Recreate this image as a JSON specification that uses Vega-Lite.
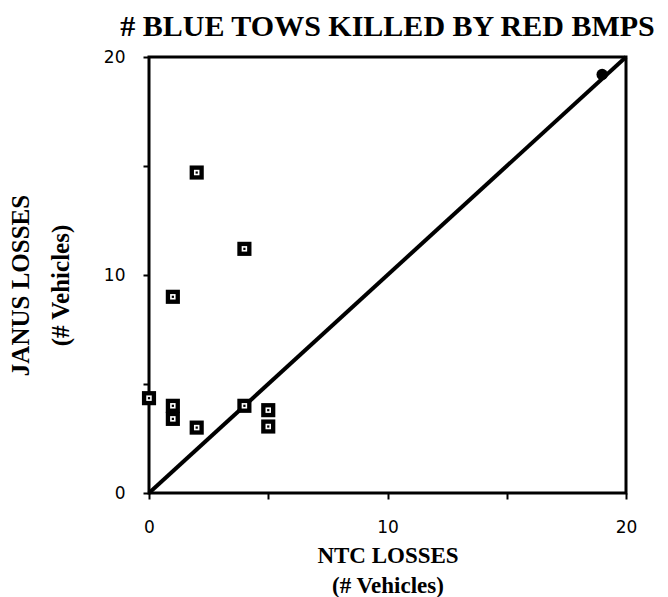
{
  "$schema": "https://vega.github.io/schema/vega-lite/v6.json",
  "width": 477,
  "height": 436,
  "autosize": {"type": "none"},
  "padding": {"left": 149, "top": 57, "right": 42, "bottom": 104},
  "background": "white",
  "config": {
    "view": {"stroke": "black", "strokeWidth": 3},
    "axis": {
      "domain": false,
      "grid": false,
      "ticks": true,
      "tickColor": "black",
      "tickWidth": 2,
      "tickSize": 6,
      "labelFont": "DejaVu Sans",
      "labelFontSize": 17,
      "labelFontWeight": 500,
      "labelColor": "black",
      "titleFont": "Liberation Serif",
      "titleFontWeight": "bold",
      "titleColor": "black"
    }
  },
  "title": {
    "text": "# BLUE TOWS KILLED BY RED BMPS",
    "anchor": "middle",
    "frame": "group",
    "font": "Liberation Serif",
    "fontSize": 30,
    "fontWeight": "bold",
    "color": "black",
    "baseline": "alphabetic",
    "offset": -18
  },
  "datasets": {
    "pts": [
      {"ntc": 0, "janus": 4.35},
      {"ntc": 1, "janus": 4.0},
      {"ntc": 1, "janus": 3.4},
      {"ntc": 2, "janus": 3.0},
      {"ntc": 4, "janus": 4.0},
      {"ntc": 5, "janus": 3.8},
      {"ntc": 5, "janus": 3.05},
      {"ntc": 1, "janus": 9.0},
      {"ntc": 2, "janus": 14.7},
      {"ntc": 4, "janus": 11.2}
    ],
    "diag": [
      {"ntc": 0, "janus": 0},
      {"ntc": 20, "janus": 20}
    ],
    "circ": [
      {"ntc": 19, "janus": 19.2}
    ]
  },
  "encoding": {
    "x": {
      "field": "ntc",
      "type": "quantitative",
      "scale": {"domain": [0, 20], "nice": false, "zero": true},
      "axis": {
        "values": [0, 5, 10, 15, 20],
        "labelExpr": "datum.value % 10 === 0 ? datum.label : ''",
        "labelPadding": 20,
        "labelFlush": false,
        "title": ["NTC LOSSES", "(# Vehicles)"],
        "titleFontSize": 23,
        "titleLineHeight": 30,
        "titlePadding": 9
      }
    },
    "y": {
      "field": "janus",
      "type": "quantitative",
      "scale": {"domain": [0, 20], "nice": false, "zero": true},
      "axis": {
        "values": [0, 5, 10, 15, 20],
        "labelExpr": "datum.value % 10 === 0 ? datum.label : ''",
        "labelPadding": 18,
        "labelFlush": false,
        "title": ["JANUS LOSSES", "(# Vehicles)"],
        "titleFontSize": 25,
        "titleLineHeight": 40,
        "titlePadding": 30,
        "titleY": 228
      }
    }
  },
  "layer": [
    {
      "data": {"name": "diag"},
      "mark": {"type": "line", "color": "black", "strokeWidth": 4, "clip": false}
    },
    {
      "data": {"name": "pts"},
      "mark": {"type": "point", "shape": "square", "filled": true, "color": "black", "size": 200, "opacity": 1}
    },
    {
      "data": {"name": "pts"},
      "mark": {"type": "point", "shape": "square", "filled": true, "color": "white", "size": 30, "opacity": 1}
    },
    {
      "data": {"name": "pts"},
      "mark": {"type": "point", "shape": "square", "filled": true, "color": "black", "size": 5, "opacity": 1}
    },
    {
      "data": {"name": "circ"},
      "mark": {"type": "point", "shape": "circle", "filled": true, "color": "black", "size": 130, "opacity": 1}
    }
  ]
}
